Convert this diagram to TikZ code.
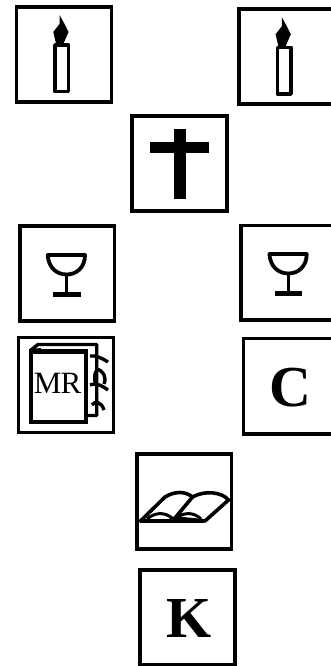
\documentclass[tikz,border=0pt]{standalone}
\usepackage{fontspec}
\setmainfont{Liberation Serif}
\tikzset{
  x=1pt,y=-1pt,
  framebox/.style={draw=black,line width=3.8pt,fill=white,line join=miter},
  ink/.style={draw=black,line width=3.4pt,line join=round},
  solidink/.style={fill=black,draw=none},
  bigletter/.style={font=\fontsize{58}{60}\selectfont\bfseries,inner sep=0pt,text=black},
  smallletter/.style={font=\fontsize{31}{32}\selectfont,inner sep=0pt,text=black},
  pics/candleicon/.style={code={
    \fill[solidink] (59.5,15) -- (64,23) -- (68.5,32) -- (63.5,43.5) -- (56,43.5) -- (53.3,32) -- (59.5,24) -- cycle;
    \draw[ink] (55,45) rectangle (68.7,91.7);
  }},
  pics/glassicon/.style={code={
    \draw[draw=black,line width=3.8pt,line join=round] (47.7,255) -- (85,255) .. controls (85,268) and (76,274.5) .. (66.7,274.5) .. controls (57,274.5) and (48.5,268) .. (47.7,255) -- cycle;
    \draw[ink] (66.7,274.5) -- (66.7,294.3);
    \draw[black,line width=4.4pt] (53.3,294.3) -- (80.7,294.3);
  }}
}
\begin{document}
\begin{tikzpicture}
\useasboundingbox (0,0) rectangle (331,666);
\clip (0,0) rectangle (331,666);
% frames
\draw[framebox] (16.5,7) rectangle (111.5,102);
\draw[framebox] (239,9.3) rectangle (340,104.2);
\draw[framebox] (132,116) rectangle (227.3,211);
\draw[framebox] (19.6,226.2) rectangle (114.5,321.2);
\draw[framebox] (241.2,225.5) rectangle (340,320.2);
\draw[framebox] (18.5,337.5) rectangle (113.5,432.5);
\draw[framebox] (243.5,338.5) rectangle (340,434);
\draw[framebox] (137.2,454.2) rectangle (231.5,549.2);
\draw[framebox] (140.2,570.2) rectangle (234.8,665);
% candles
\pic at (0,0) {candleicon};
\pic at (222.3,2.3) {candleicon};
% cross
\fill[solidink] (173.7,129) rectangle (185.7,198.7);
\fill[solidink] (149.7,142.3) rectangle (208.7,153.3);
% glasses
\pic at (0,0) {glassicon};
\pic at (221.7,-1) {glassicon};
% ring-bound book
\draw[ink] (31,350) -- (38,344.5) -- (96.7,344.5) -- (96.7,415.5) -- (87,415.5);
\draw[line width=2pt] (31,350) -- (41,349);
\draw[draw=black,line width=4.2pt,fill=white] (31,351.5) rectangle (86,422);
\node[smallletter] (mr) at (57.5,383.5) {\addfontfeature{LetterSpace=-3}MR};
\draw[line width=3.4pt] (90,356) .. controls (95,355) and (102,358) .. (108,362);
\draw[line width=3.4pt] (96,369) .. controls (103,370) and (107,377) .. (104,384);
\draw[line width=3.4pt] (90,385) .. controls (97,382) and (104,387) .. (108,390);
\draw[line width=3.4pt] (96,371) .. controls (94,376) and (94,382) .. (97,386);
\draw[line width=3.4pt] (92,405) .. controls (95,401) and (101,401) .. (104,410);
% C
\node[bigletter] (c) at (290.5,388) {C};
% open book
\draw[line width=3.6pt,line join=round,fill=white] (140.5,521) -- (165,497) .. controls (175,491) and (185,491) .. (192.5,497) -- (175,518) -- (205,521) -- cycle;
\draw[line width=3.6pt,line join=round] (192.5,497) .. controls (205,490) and (222,492) .. (228.5,500) -- (205,521);
\draw[line width=3.4pt] (175,518) -- (168,521);
\draw[line width=3pt] (147,519) .. controls (155,512) and (165,512) .. (172,518);
\draw[line width=3pt] (176,518) .. controls (184,512) and (194,512) .. (201,519);
\draw[line width=3.4pt] (140,521) -- (205,521);
% K
\node[bigletter] (k) at (188.7,619) {K};
\end{tikzpicture}
\end{document}
